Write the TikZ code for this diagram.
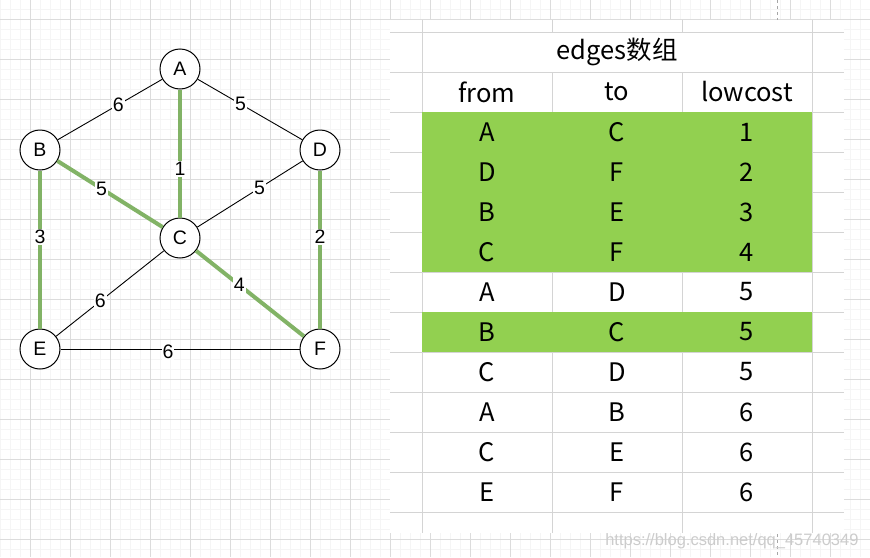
\documentclass[tikz,border=0pt]{standalone}
\usepackage{fontspec}
\usepackage{xcolor}
\setmainfont{Liberation Sans}
\newfontfamily\cjkfont{Noto Sans CJK SC}
\usetikzlibrary{positioning}
\definecolor{Grid_Major}{HTML}{DCDCDC}
\definecolor{Grid_Minor}{HTML}{F5F5F5}
\definecolor{Tree_Green}{HTML}{82B366}
\definecolor{Row_Green}{HTML}{92D050}
\definecolor{Cell_Line}{HTML}{D4D4D4}

\begin{document}
\begin{tikzpicture}[x=1pt, y=-1pt,
    vertex/.style={circle, draw, line width=1pt, fill=white, minimum size=40pt, inner sep=0pt, font=\fontsize{19.5}{19.5}\selectfont},
    plainedge/.style={draw=black, line width=0.9pt},
    treeedge/.style={draw=Tree_Green, line width=4pt},
    cost/.style={fill=white, inner sep=1pt, font=\fontsize{19.5}{19.5}\selectfont},
    cell/.style={font=\cjkfont\fontsize{25.5}{25.5}\selectfont, inner sep=0pt}]

    \useasboundingbox (0,0) rectangle (870,557);

    % === Background grid (minor every 10, major every 40) ===
    \fill[white] (0,0) rectangle (870,557);
    \foreach \x in {0,10,...,870} \draw[Grid_Minor, line width=1pt] (\x,0) -- (\x,557);
    \foreach \y in {-0.5,9.5,...,560} \draw[Grid_Minor, line width=1pt] (0,\y) -- (870,\y);
    \foreach \x in {30,70,...,870} \draw[Grid_Major, line width=1pt] (\x,0) -- (\x,557);
    \foreach \y in {19.5,59.5,...,560} \draw[Grid_Major, line width=1pt] (0,\y) -- (870,\y);
    \draw[gray!70, dashed, line width=0.8pt] (777.5,0) -- (777.5,557);

    % === Graph ===
    \node[vertex] (A) at (180,69) {A};
    \node[vertex] (B) at (40,150) {B};
    \node[vertex] (D) at (320,150) {D};
    \node[vertex] (C) at (180,238) {C};
    \node[vertex] (E) at (40,349) {E};
    \node[vertex] (F) at (320,349) {F};

    \draw[plainedge] (A) -- node[cost, pos=0.42] {6} (B);
    \draw[plainedge] (A) -- node[cost, pos=0.41] {5} (D);
    \draw[plainedge] (D) -- node[cost, pos=0.41] {5} (C);
    \draw[plainedge] (C) -- node[cost, pos=0.59] {6} (E);
    \draw[plainedge] (E) -- node[cost, pos=0.45, yshift=-3pt] {6} (F);
    \draw[treeedge] (A) -- node[cost, pos=0.62] {1} (C);
    \draw[treeedge] (B) -- node[cost, pos=0.42] {5} (C);
    \draw[treeedge] (B) -- node[cost, pos=0.42] {3} (E);
    \draw[treeedge] (D) -- node[cost, pos=0.42] {2} (F);
    \draw[treeedge] (C) -- node[cost, pos=0.40] {4} (F);

    % === edges array (sheet at x = 390..844, cells 130 x 40) ===
    \fill[white] (390,19.5) rectangle (844,533);
    \foreach \y in {32,72,...,512} \draw[Cell_Line, line width=1pt] (390,\y) -- (844,\y);
    \foreach \x in {422,812} \draw[Cell_Line, line width=1pt] (\x,19.5) -- (\x,533);
    \foreach \x in {552,682} {
        \draw[Cell_Line, line width=1pt] (\x,19.5) -- (\x,32);
        \draw[Cell_Line, line width=1pt] (\x,72) -- (\x,533);
    }
    \fill[Row_Green] (422,112) rectangle (812,272);
    \fill[Row_Green] (422,312) rectangle (812,352);

    \node[cell] (title) at (617,52) {edges数组};
    \node[cell] (hFrom) at (487,92) {from};
    \node[cell] (hTo) at (617,92) {to};
    \node[cell] (hCost) at (747,92) {lowcost};
    \foreach \f/\t/\c [count=\i] in {A/C/1, D/F/2, B/E/3, C/F/4, A/D/5, B/C/5, C/D/5, A/B/6, C/E/6, E/F/6} {
        \node[cell] (from\i) at (487,{92+40*\i}) {\f};
        \node[cell] (to\i) at (617,{92+40*\i}) {\t};
        \node[cell] (cost\i) at (747,{92+40*\i}) {\c};
    }

    \node[anchor=base east, text=gray!40, font=\fontsize{16.5}{16.5}\selectfont] (mark) at (862,545) {https://blog.csdn.net/qq\_45740349};

\end{tikzpicture}
\end{document}
